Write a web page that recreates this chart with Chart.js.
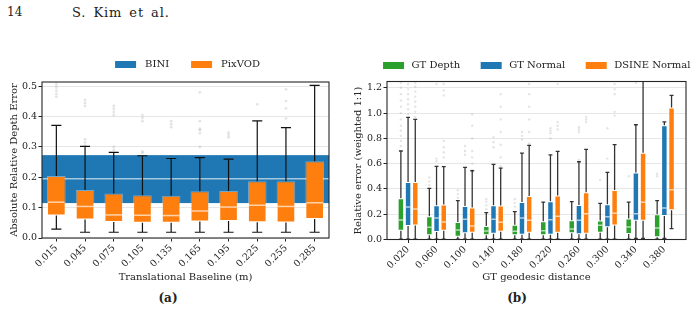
<!DOCTYPE html>
<html>
<head>
<meta charset="utf-8">
<script src="https://cdn.jsdelivr.net/npm/chart.js@4.4.1/dist/chart.umd.min.js"></script>
<style>
  body { margin: 0; background: #fff; width: 695px; height: 314px; position: relative; overflow: hidden; }
  #chartA { position: absolute; left: 0; top: 0; }
  #chartB { position: absolute; left: 345px; top: 0; }
  .hdr { position: absolute; top: 5px; line-height: 15px; font: 13px "DejaVu Serif", serif; color: #222; letter-spacing: 0.9px; word-spacing: 2px; white-space: nowrap; }
  .cap { position: absolute; top: 291px; font: bold 12px "DejaVu Serif", serif; color: #222; transform: translateX(-50%); }
</style>
</head>
<body>
<div class="hdr" style="left:7px;font-size:12px;letter-spacing:0">14</div>
<div class="hdr" style="left:72px">S. Kim et al.</div>
<canvas id="chartA" width="345" height="290"></canvas>
<canvas id="chartB" width="381" height="290"></canvas>
<div class="cap" style="left:168px">(a)</div>
<div class="cap" style="left:517px">(b)</div>
<script>
// ---- (a) depth error vs translational baseline ----
const baselineLabels = ['0.015', '0.045', '0.075', '0.105', '0.135', '0.165', '0.195', '0.225', '0.255', '0.285'];
const yTicksA = [0, 0.1, 0.2, 0.3, 0.4, 0.5];
const seriesA = ['BINI', 'PixVOD'];
const colorsA = ['#1f77b4', '#ff7f0e'];

// BINI is one wide box: q1, median, q3
const biniStats = [0.115, 0.195, 0.273];

const pixLow  = [0.029, 0.019, 0.019, 0.019, 0.019, 0.019, 0.019, 0.019, 0.019, 0.019];
const pixQ1   = [0.074, 0.061, 0.053, 0.050, 0.050, 0.054, 0.056, 0.052, 0.051, 0.063];
const pixMed  = [0.118, 0.104, 0.076, 0.075, 0.074, 0.089, 0.102, 0.108, 0.104, 0.116];
const pixQ3   = [0.204, 0.158, 0.147, 0.141, 0.139, 0.154, 0.155, 0.187, 0.187, 0.253];
const pixHigh = [0.371, 0.302, 0.282, 0.271, 0.262, 0.265, 0.260, 0.386, 0.364, 0.503];
const pixFliers = [
  [0.465, 0.475, 0.485, 0.495, 0.505, 0.515],
  [0.435, 0.445, 0.455, 0.305, 0.315, 0.325],
  [0.405, 0.415, 0.425, 0.435, 0.29, 0.30],
  [0.385, 0.395, 0.405, 0.28, 0.285],
  [0.365, 0.375, 0.385, 0.27],
  [0.345, 0.355, 0.36, 0.48, 0.385, 0.30],
  [0.332, 0.34, 0.347],
  [0.44],
  [0.49, 0.451, 0.427, 0.394],
  []
];

// ---- (b) relative error vs GT geodesic distance ----
const distLabels = ['0.020', '0.060', '0.100', '0.140', '0.180', '0.220', '0.260', '0.300', '0.340', '0.380'];
const yTicksB = [0, 0.2, 0.4, 0.6, 0.8, 1.0, 1.2];
const seriesB = ['GT Depth', 'GT Normal', 'DSINE Normal'];
const colorsB = ['#2ca02c', '#1f77b4', '#ff7f0e'];

const depthLow  = [0.002, 0.002, 0.002, 0.002, 0.002, 0.002, 0.002, 0.002, 0.002, 0.002];
const depthQ1   = [0.070, 0.033, 0.022, 0.033, 0.033, 0.033, 0.049, 0.054, 0.043, 0.017];
const depthMed  = [0.154, 0.096, 0.075, 0.067, 0.065, 0.070, 0.083, 0.112, 0.099, 0.091];
const depthQ3   = [0.326, 0.183, 0.138, 0.107, 0.117, 0.144, 0.152, 0.150, 0.167, 0.199];
const depthHigh = [0.700, 0.405, 0.307, 0.212, 0.220, 0.296, 0.300, 0.286, 0.296, 0.307];
const depthFliers = [
  [0.74, 0.78, 0.82, 0.86, 0.90, 0.95, 1.00, 1.05, 1.10, 1.15, 1.20, 1.24],
  [0.43, 0.46, 0.49],
  [0.33, 0.36, 0.39],
  [0.24, 0.27, 0.30, 0.32],
  [0.26, 0.29, 0.32],
  [],
  [],
  [0.47],
  [0.50],
  [0.50, 0.52]
];

const normalLow  = [0.002, 0.002, 0.002, 0.002, 0.002, 0.002, 0.002, 0.002, 0.008, 0.008];
const normalQ1   = [0.107, 0.059, 0.049, 0.046, 0.038, 0.038, 0.041, 0.096, 0.149, 0.186];
const normalMed  = [0.257, 0.170, 0.160, 0.160, 0.170, 0.157, 0.152, 0.180, 0.204, 0.249];
const normalQ3   = [0.455, 0.270, 0.265, 0.270, 0.296, 0.302, 0.273, 0.278, 0.531, 0.903];
const normalHigh = [0.966, 0.578, 0.570, 0.594, 0.684, 0.670, 0.615, 0.531, 0.908, 0.931];
const normalFliers = [
  [0.99, 1.03, 1.07, 1.11, 1.15, 1.19, 1.23],
  [0.62, 0.64, 1.23],
  [0.67, 0.70, 0.74],
  [0.73, 0.77, 0.81],
  [0.79, 0.82, 0.85],
  [0.80, 0.84, 0.86, 0.88],
  [0.63, 0.85, 0.87, 0.89],
  [0.64, 0.88],
  [1.24],
  []
];

const dsineLow  = [0.002, 0.002, 0.002, 0.002, 0.002, 0.002, 0.002, 0.002, 0.008, 0.086];
const dsineQ1   = [0.110, 0.070, 0.054, 0.062, 0.054, 0.054, 0.046, 0.110, 0.149, 0.231];
const dsineMed  = [0.241, 0.138, 0.107, 0.136, 0.152, 0.183, 0.204, 0.207, 0.294, 0.394];
const dsineQ3   = [0.455, 0.276, 0.254, 0.268, 0.344, 0.349, 0.373, 0.391, 0.686, 1.045];
const dsineHigh = [0.950, 0.576, 0.544, 0.565, 0.744, 0.697, 0.713, 0.750, 1.600, 1.140];
const dsineFliers = [
  [0.97, 1.01, 1.05, 1.09, 1.13, 1.17, 1.21, 1.24],
  [0.65, 0.69, 0.73, 0.78, 1.14, 1.18, 1.23],
  [0.55, 0.60, 0.65, 0.70, 0.80, 0.90, 0.99],
  [0.58, 0.65, 0.75, 0.85, 0.95, 1.05, 1.15],
  [0.76, 0.85, 0.95, 1.05, 1.15, 1.23],
  [0.87, 0.90, 0.93, 1.23],
  [0.93, 0.95, 0.97],
  [0.98, 1.01, 1.15, 1.19, 1.23],
  [],
  []
];

const FONT = "'DejaVu Serif', serif";
const INK = '#222';

// whiskers, caps, medians and outliers on top of the floating bars
const boxPlugin = {
  id: 'boxes',
  beforeDatasetsDraw(chart, args, opts) {
    if (!opts.band) return;
    const { ctx, chartArea: a, scales: { y } } = chart;
    const [q1, med, q3] = opts.band.stats;
    const top = y.getPixelForValue(q3), bot = y.getPixelForValue(q1), m = y.getPixelForValue(med);
    ctx.save();
    ctx.fillStyle = opts.band.color;
    ctx.fillRect(a.left, top, a.right - a.left, bot - top);
    ctx.strokeStyle = 'rgba(255,255,255,0.6)';
    ctx.lineWidth = 1.5;
    ctx.beginPath(); ctx.moveTo(a.left, m); ctx.lineTo(a.right, m); ctx.stroke();
    ctx.restore();
  },
  afterDatasetsDraw(chart, args, opts) {
    const { ctx, chartArea: a, scales: { y } } = chart;
    ctx.save();
    ctx.beginPath(); ctx.rect(a.left, a.top, a.right - a.left, a.bottom - a.top); ctx.clip();
    chart.data.datasets.forEach((ds, di) => {
      const st = ds.stats;
      chart.getDatasetMeta(di).data.forEach((bar, i) => {
        const x = bar.x, w = bar.width, cap = w * opts.capRatio / 2;
        ctx.fillStyle = 'rgba(90,90,90,0.16)';
        st.fliers[i].forEach(v => {
          ctx.beginPath(); ctx.arc(x, y.getPixelForValue(v), opts.flierRadius, 0, Math.PI * 2); ctx.fill();
        });
        const pq1 = y.getPixelForValue(st.q1[i]), pq3 = y.getPixelForValue(st.q3[i]);
        const plo = y.getPixelForValue(st.low[i]), phi = y.getPixelForValue(st.high[i]);
        ctx.strokeStyle = opts.whiskerColor;
        ctx.lineWidth = opts.whiskerWidth;
        ctx.beginPath();
        ctx.moveTo(x, pq3); ctx.lineTo(x, phi);
        ctx.moveTo(x, pq1); ctx.lineTo(x, plo);
        ctx.moveTo(x - cap, phi); ctx.lineTo(x + cap, phi);
        ctx.moveTo(x - cap, plo); ctx.lineTo(x + cap, plo);
        ctx.stroke();
        const pm = y.getPixelForValue(st.med[i]);
        ctx.strokeStyle = 'rgba(255,255,255,0.65)';
        ctx.lineWidth = 1.5;
        ctx.beginPath(); ctx.moveTo(x - w / 2 + 1, pm); ctx.lineTo(x + w / 2 - 1, pm); ctx.stroke();
      });
    });
    ctx.restore();
  },
  afterDraw(chart) {
    const { ctx, chartArea: a } = chart;
    ctx.save();
    ctx.strokeStyle = '#262626';
    ctx.lineWidth = 1.1;
    ctx.strokeRect(a.left, a.top, a.right - a.left, a.bottom - a.top);
    ctx.restore();
  }
};

function boxDataset(label, color, q1, med, q3, low, high, fliers, barPct, catPct) {
  return {
    label,
    yAxisID: 'y',
    data: q1.map((v, i) => ({ x: i, y: [v, q3[i]] })),
    backgroundColor: color,
    borderColor: 'rgba(255,255,255,0.35)',
    borderWidth: 1,
    borderSkipped: false,
    barPercentage: barPct,
    categoryPercentage: catPct,
    stats: { q1, med, q3, low, high, fliers }
  };
}

function makeOptions(cfg) {
  const scales = {
    x: {
      type: 'linear',
      min: cfg.xMin,
      max: cfg.xMax,
      offset: false,
      afterBuildTicks: s => { s.ticks = cfg.labels.map((_, i) => ({ value: i })); },
      afterFit: s => { s.height = cfg.xHeight; },
      grid: { offset: false, drawOnChartArea: false, tickLength: 3.5, tickColor: INK },
      border: { display: false },
      ticks: {
        autoSkip: false, maxRotation: 45, minRotation: 45, padding: 1, color: INK,
        font: { family: FONT, size: 9.5 },
        callback: v => cfg.labels[v]
      },
      title: { display: true, text: cfg.xTitle, color: INK, font: { family: FONT, size: 10 }, padding: { bottom: 6.7, top: 0 } }
    },
    y: {
      position: 'left',
      min: 0,
      max: cfg.yMax,
      afterBuildTicks: s => { s.ticks = cfg.yTicks.map(v => ({ value: v })); },
      afterFit: s => { s.width = 42; },
      grid: { color: '#e6e6e6', lineWidth: 1, tickLength: 3.5, tickColor: INK },
      border: { display: false },
      ticks: { padding: 1.5, color: INK, font: { family: FONT, size: 9.5 }, callback: v => v.toFixed(1) },
      title: { display: true, text: cfg.yTitle, color: INK, font: { family: FONT, size: 10 }, padding: { top: cfg.yTitlePad, bottom: 0 } }
    }
  };
  if (cfg.rightGap) {
    // empty margin on the right so the full-width legend is centred like the original
    scales.yGap = {
      type: 'linear', position: 'right', display: true,
      afterFit: s => { s.width = cfg.rightGap; },
      grid: { display: false, drawTicks: false },
      border: { display: false },
      ticks: { display: false }
    };
  }
  return {
    responsive: false,
    animation: false,
    events: [],
    layout: { padding: cfg.padding },
    plugins: {
      legend: {
        position: 'top',
        fullSize: cfg.legendFull,
        labels: {
          boxWidth: cfg.swatch.w,
          boxHeight: cfg.swatch.h,
          padding: cfg.legendPadding,
          color: INK,
          font: { family: FONT, size: 10 },
          // white rim trims the swatch to a flat 21x7 bar
          generateLabels: () => cfg.series.map((name, i) => ({
            text: name, fillStyle: cfg.colors[i], strokeStyle: '#fff',
            lineWidth: cfg.swatch.rim, hidden: false, datasetIndex: i, fontColor: INK
          }))
        }
      },
      tooltip: { enabled: false },
      boxes: cfg.boxes
    },
    scales
  };
}

new Chart(document.getElementById('chartA'), {
  type: 'bar',
  data: {
    datasets: [boxDataset('PixVOD', colorsA[1], pixQ1, pixMed, pixQ3, pixLow, pixHigh, pixFliers, 0.65, 1)]
  },
  options: makeOptions({
    padding: { top: 39, left: 0, right: 16, bottom: 0 },
    legendFull: false, legendPadding: 18, swatch: { w: 29, h: 15, rim: 8 },
    series: seriesA, colors: colorsA,
    labels: baselineLabels, xMin: -0.5, xMax: 9.5, xHeight: 52,
    xTitle: 'Translational Baseline (m)',
    yMax: 0.514, yTicks: yTicksA, yTitle: 'Absolute Relative Depth Error', yTitlePad: 8,
    boxes: { band: { stats: biniStats, color: colorsA[0] }, capRatio: 0.54, flierRadius: 1.4, whiskerColor: '#111', whiskerWidth: 1.2 }
  }),
  plugins: [boxPlugin]
});

new Chart(document.getElementById('chartB'), {
  type: 'bar',
  data: {
    datasets: [
      boxDataset('GT Depth', colorsB[0], depthQ1, depthMed, depthQ3, depthLow, depthHigh, depthFliers, 0.9, 0.758),
      boxDataset('GT Normal', colorsB[1], normalQ1, normalMed, normalQ3, normalLow, normalHigh, normalFliers, 0.9, 0.758),
      boxDataset('DSINE Normal', colorsB[2], dsineQ1, dsineMed, dsineQ3, dsineLow, dsineHigh, dsineFliers, 0.9, 0.758)
    ]
  },
  options: makeOptions({
    padding: { top: 41.5, left: 0, right: 0, bottom: 0 },
    legendFull: true, legendPadding: 18, swatch: { w: 26, h: 12, rim: 5 },
    rightGap: 40,
    series: seriesB, colors: colorsB,
    labels: distLabels, xMin: -0.74, xMax: 9.76, xHeight: 50.5,
    xTitle: 'GT geodesic distance',
    yMax: 1.25, yTicks: yTicksB, yTitle: 'Relative error (weighted 1:1)', yTitlePad: 7.5,
    boxes: { capRatio: 0.6, flierRadius: 1.2, whiskerColor: 'rgba(0,0,0,0.8)', whiskerWidth: 1.3 }
  }),
  plugins: [boxPlugin]
});
</script>
</body>
</html>
